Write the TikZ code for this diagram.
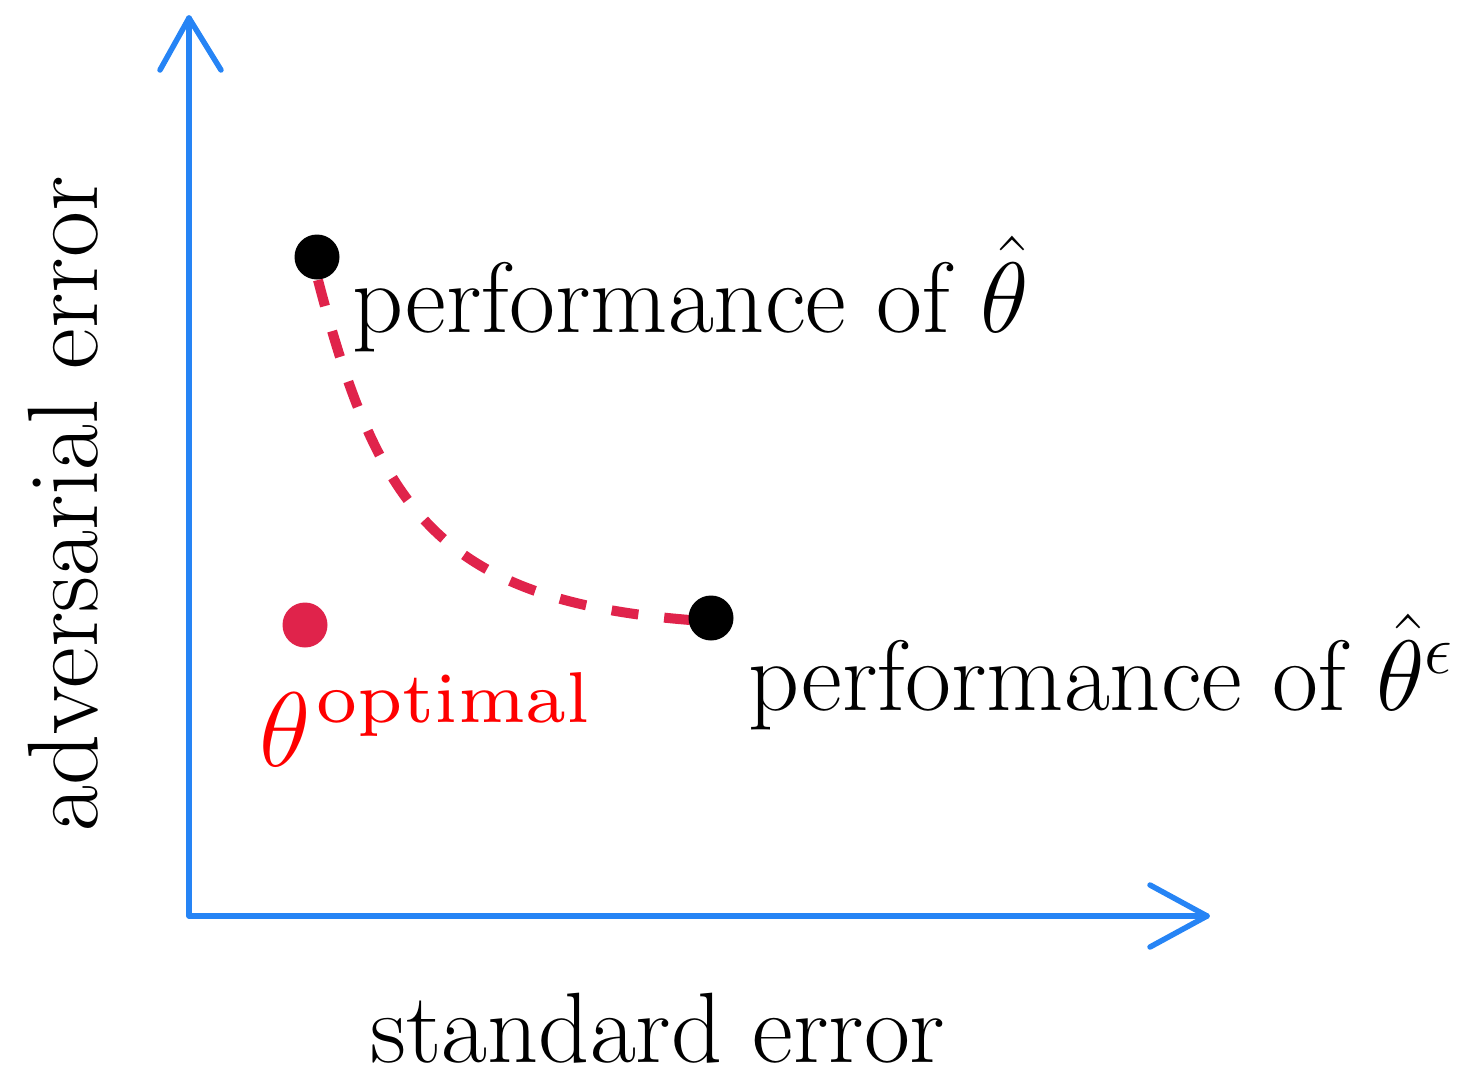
\RequirePackage{fix-cm}
\documentclass[tikz,border=0pt]{standalone}
\usepackage{amsmath}
\usepackage{fontspec}
\newfontfamily\lmseven{lmroman7-regular.otf}
\definecolor{axisblue}{RGB}{38,132,245}
\definecolor{dotred}{RGB}{224,35,75}
\begin{document}
\begin{tikzpicture}[x=1pt,y=-1pt,
  axisline/.style={draw=axisblue,line width=5.5pt,line cap=round,line join=round},
  blackdot/.style={circle,fill=black,inner sep=0pt,minimum size=45pt},
  reddot/.style={circle,fill=dotred,inner sep=0pt,minimum size=45pt},
  bigtext/.style={inner sep=0pt,font=\fontsize{100}{110}\selectfont},
  frontier/.style={draw=dotred,line width=10pt,dash pattern=on 27pt off 26pt}]
\useasboundingbox (0,0) rectangle (1476,1079);
% axes
\coordinate (origin) at (189,916);
\coordinate (ytip) at (189,18);
\coordinate (xtip) at (1207,916);
\draw[axisline] (ytip) -- (origin) -- (xtip);
\draw[axisline] ([shift={(-29,52)}]ytip) -- (ytip) -- ([shift={(32,52)}]ytip);
\draw[axisline] ([shift={(-57,-31)}]xtip) -- (xtip) -- ([shift={(-57,31)}]xtip);
% frontier
\coordinate (c1) at (318,280);
\coordinate (c2) at (690,620);
\draw[frontier] (c1) .. controls (378,510) and (440,600) .. (c2);
% dots
\node[blackdot] (thetahat) at (317,257) {};
\node[blackdot] (thetaeps) at (711,618) {};
\node[reddot] (thetaopt) at (305,625) {};
% labels
\node[bigtext,anchor=base west] (lab1) at (352,332) {performance of $\hat{\theta}$};
\node[bigtext,anchor=base west] (lab2) at (748,710) {performance of $\hat{\theta}^{\epsilon}$};
\node[inner sep=0pt,anchor=base west,text=red] (lab3) at (259,766)
  {\fontsize{106}{110}\selectfont$\theta$\hspace{6pt}\raisebox{44pt}{\lmseven\fontsize{72}{80}\selectfont optimal}};
\node[bigtext,anchor=base] (xlab) at (658,1062) {standard error};
\node[bigtext,anchor=base,rotate=90] (ylab) at (97,504) {adversarial error};
\end{tikzpicture}
\end{document}
